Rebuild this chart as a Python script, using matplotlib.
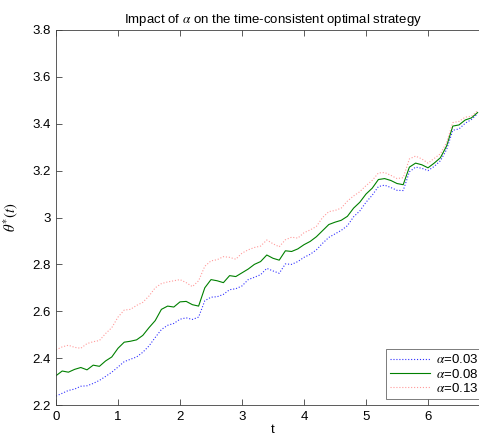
import matplotlib
matplotlib.use('Agg')
import matplotlib.pyplot as plt
from matplotlib.ticker import FormatStrFormatter
import numpy as np

plt.rcParams['font.family'] = ['Liberation Sans', 'DejaVu Sans']
plt.rcParams['mathtext.fontset'] = 'stix'

t = np.round(np.arange(0, 6.85, 0.1), 1)

# alpha = 0.03
theta_a1 = [2.238, 2.250, 2.262, 2.268, 2.280, 2.282, 2.292, 2.305, 2.322, 2.340,
            2.362, 2.385, 2.395, 2.405, 2.425, 2.452, 2.488, 2.522, 2.540, 2.548,
            2.566, 2.572, 2.565, 2.575, 2.645, 2.660, 2.662, 2.672, 2.692, 2.696,
            2.708, 2.735, 2.745, 2.756, 2.783, 2.772, 2.762, 2.802, 2.800, 2.812,
            2.830, 2.843, 2.862, 2.890, 2.915, 2.930, 2.945, 2.965, 3.003, 3.028,
            3.065, 3.095, 3.132, 3.138, 3.128, 3.116, 3.115, 3.195, 3.215, 3.210,
            3.200, 3.218, 3.242, 3.290, 3.372, 3.378, 3.402, 3.418, 3.443]
# alpha = 0.08
theta_a2 = [2.325, 2.345, 2.340, 2.352, 2.360, 2.350, 2.370, 2.365, 2.388, 2.405,
            2.442, 2.468, 2.472, 2.478, 2.497, 2.530, 2.560, 2.608, 2.622, 2.618,
            2.640, 2.642, 2.628, 2.622, 2.700, 2.735, 2.730, 2.722, 2.752, 2.748,
            2.764, 2.780, 2.800, 2.812, 2.840, 2.826, 2.818, 2.858, 2.855, 2.866,
            2.884, 2.898, 2.918, 2.944, 2.970, 2.980, 2.988, 3.005, 3.040, 3.065,
            3.100, 3.125, 3.162, 3.166, 3.158, 3.145, 3.140, 3.215, 3.232, 3.225,
            3.212, 3.232, 3.255, 3.305, 3.390, 3.395, 3.416, 3.425, 3.448]
# alpha = 0.13
theta_a3 = [2.435, 2.448, 2.455, 2.446, 2.442, 2.462, 2.470, 2.475, 2.505, 2.530,
            2.575, 2.605, 2.608, 2.625, 2.638, 2.665, 2.700, 2.718, 2.725, 2.730,
            2.735, 2.722, 2.705, 2.730, 2.792, 2.815, 2.820, 2.833, 2.830, 2.822,
            2.848, 2.862, 2.872, 2.878, 2.904, 2.888, 2.875, 2.905, 2.916, 2.912,
            2.935, 2.947, 2.962, 3.000, 3.025, 3.030, 3.040, 3.070, 3.092, 3.110,
            3.136, 3.158, 3.190, 3.192, 3.180, 3.166, 3.170, 3.250, 3.262, 3.250,
            3.232, 3.252, 3.272, 3.320, 3.405, 3.410, 3.428, 3.432, 3.455]

labels = ['$\\alpha$=0.03', '$\\alpha$=0.08', '$\\alpha$=0.13']

fig = plt.figure(figsize=(4.79, 4.36), dpi=100)
# axes run past the right edge (the reference is cropped there)
ax = fig.add_axes([56 / 479, 31 / 436, 434 / 479, 375 / 436])

ax.plot(t, theta_a1, ':', color='#3030ff', lw=0.8, label=labels[0])
ax.plot(t, theta_a2, '-', color='#008000', lw=0.8, label=labels[1])
ax.plot(t, theta_a3, ':', color='#ff9a9a', lw=0.8, label=labels[2])

ax.set_xlim(0, 7)
ax.set_ylim(2.2, 3.8)
ax.set_xticks(np.arange(0, 8, 1))
ax.set_yticks(np.arange(2.2, 3.81, 0.2))
ax.yaxis.set_major_formatter(FormatStrFormatter('%g'))
ax.tick_params(direction='in', length=4, width=0.6, top=True, right=True,
               labelsize=9.5, colors='#404040', labelcolor='black', pad=4)
for s in ax.spines.values():
    s.set_linewidth(0.6)
    s.set_color('#404040')

ax.set_title('Impact of $\\alpha$ on the time-consistent optimal strategy',
             fontsize=9.5, pad=5)
ax.set_xlabel('t', fontsize=9.5, labelpad=1)
ax.set_ylabel('$\\theta^{*}(t)$', fontsize=10.5, labelpad=9)

leg = ax.legend(loc='lower left', bbox_to_anchor=(386 / 479, 37 / 436),
                bbox_transform=fig.transFigure, fontsize=9.5, frameon=True,
                fancybox=False, edgecolor='#404040', borderaxespad=0,
                handlelength=3.0, handletextpad=0.5, labelspacing=0.1,
                borderpad=0.3)
leg.get_frame().set_linewidth(0.6)

fig.savefig('out.png', dpi=100)
